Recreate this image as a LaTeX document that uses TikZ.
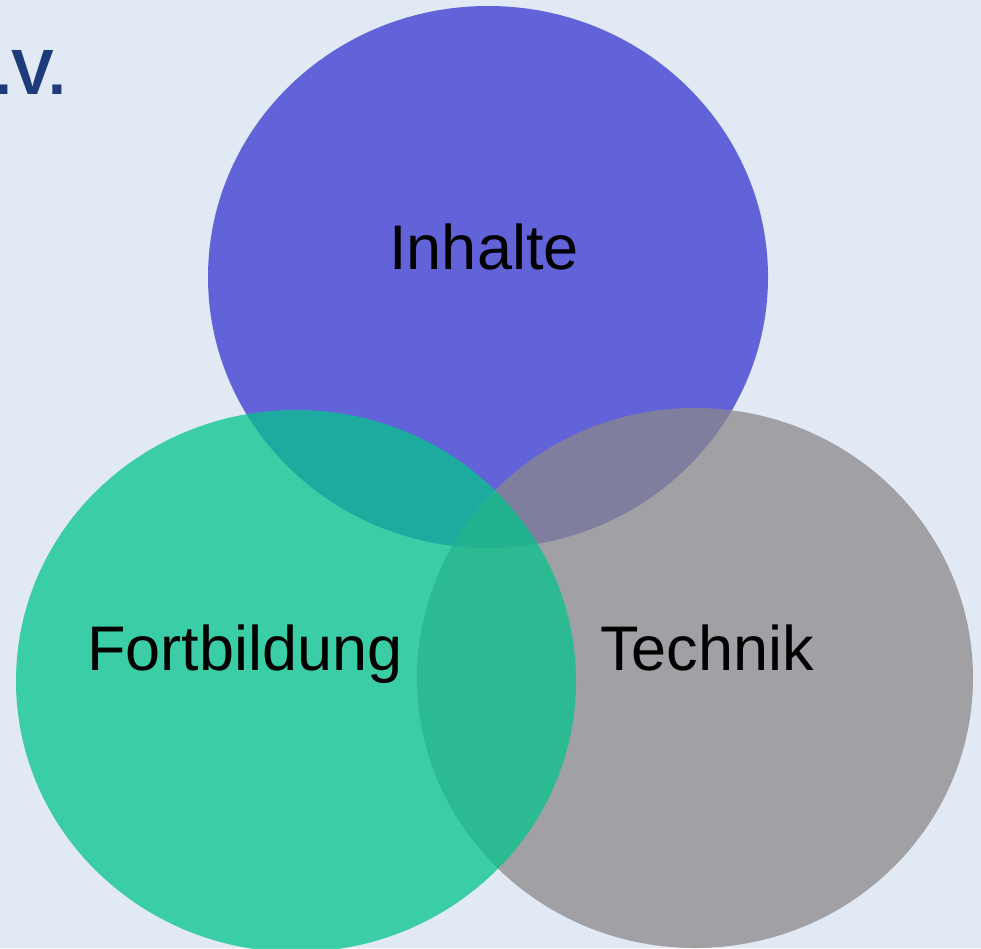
\documentclass[tikz,border=0pt]{standalone}
\usepackage{fontspec}
\setmainfont{Liberation Sans}
\usetikzlibrary{shapes.geometric}
\definecolor{bgc}{RGB}{224,233,244}
\definecolor{bluec}{RGB}{56,53,209}
\definecolor{greenc}{RGB}{5,196,139}
\definecolor{grayc}{RGB}{139,136,139}
\definecolor{navy}{RGB}{31,58,122}
\begin{document}
\begin{tikzpicture}[x=1pt,y=-1pt,
  setc/.style={ellipse,draw=none,fill opacity=0.75,inner sep=0pt},
  lab/.style={inner sep=0pt,anchor=base,font=\fontsize{63}{75}\selectfont,text=black}]
\fill[bgc] (0,0) rectangle (981,948);
\useasboundingbox (0,0) rectangle (981,948);
\node[inner sep=0pt,anchor=base west,text=navy,font=\fontsize{64}{76}\selectfont\bfseries] (title) at (-6,94) {.V.};
\node[setc,fill=bluec,minimum width=560pt,minimum height=542pt] (inh) at (488,277) {};
\node[setc,fill=grayc,minimum width=556pt,minimum height=540pt] (tec) at (695,678) {};
\node[setc,fill=greenc,minimum width=560pt,minimum height=542pt] (fort) at (296,681) {};
\node[lab] (tinh) at (484,269) {Inhalte};
\node[lab] (tfort) at (245,670) {Fortbildung};
\node[lab] (ttec) at (707,670) {Technik};
\end{tikzpicture}
\end{document}
